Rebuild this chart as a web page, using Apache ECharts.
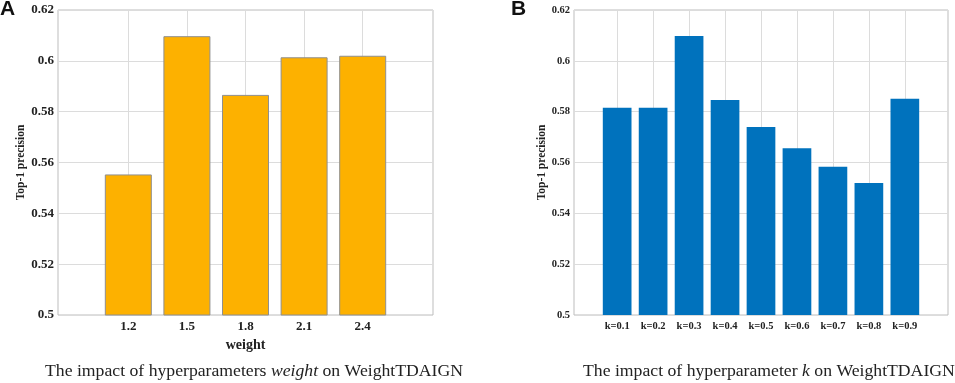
<!DOCTYPE html>
<html>
<head>
<meta charset="utf-8">
<script src="https://cdn.jsdelivr.net/npm/echarts@6/dist/echarts.min.js"></script>
<style>
  html, body { margin: 0; padding: 0; background: #fff; }
  #chart { width: 955px; height: 383px; }
</style>
</head>
<body>
<div id="chart"></div>
<script>
// panel A: weight sweep
const weights = [1.2, 1.5, 1.8, 2.1, 2.4];
const weightPrecision = [0.5553, 0.6097, 0.5866, 0.6014, 0.6020];

// panel B: k sweep
const kValues = [0.1, 0.2, 0.3, 0.4, 0.5, 0.6, 0.7, 0.8, 0.9];
const kPrecision = [0.5815, 0.5815, 0.6098, 0.5846, 0.5740, 0.5656, 0.5583, 0.5519, 0.5851];

// shared y ticks
const yMin = 0.5, yMax = 0.62, yStep = 0.02;

const serif = '"Liberation Serif", "Times New Roman", serif';
const sans = '"Liberation Sans", Arial, sans-serif';
const gridColor = '#dcdcdc';
const frameColor = '#bdbdbd';

function yAxisFor(gridIndex, labelSize, gap) {
  return {
    type: 'value', gridIndex,
    min: yMin, max: yMax, interval: yStep,
    name: 'Top-1 precision', nameLocation: 'middle', nameGap: gap,
    nameTextStyle: { fontFamily: serif, fontWeight: 'bold', fontSize: 11.5, color: '#222' },
    axisLine: { show: false }, axisTick: { show: false },
    axisLabel: { fontFamily: serif, fontWeight: 'bold', fontSize: labelSize, color: '#222', margin: 4 },
    splitLine: { lineStyle: { color: gridColor, width: 1 } }
  };
}

// vertical grid lines at each bar position
function vLines(xs) {
  return {
    silent: true, symbol: 'none', z: 1,
    label: { show: false },
    lineStyle: { color: gridColor, type: 'solid', width: 1 },
    data: xs.map(x => ({ xAxis: x }))
  };
}

function caption(text, left) {
  return {
    text, left, top: 362, padding: 0,
    textStyle: { fontFamily: serif, fontWeight: 'normal', fontSize: 17.7, color: '#222',
      rich: { i: { fontFamily: serif, fontStyle: 'italic', fontSize: 17.7, color: '#222' } } }
  };
}

const chart = echarts.init(document.getElementById('chart'), null, { renderer: 'canvas' });

chart.setOption({
  animation: false,
  title: [
    { text: 'A', left: 0, top: -1, padding: 0, textStyle: { fontFamily: sans, fontWeight: 'bold', fontSize: 21, color: '#111' } },
    { text: 'B', left: 511, top: -1, padding: 0, textStyle: { fontFamily: sans, fontWeight: 'bold', fontSize: 21, color: '#111' } },
    caption('The impact of hyperparameters {i|weight} on WeightTDAIGN', 45),
    caption('The impact of hyperparameter {i|k} on WeightTDAIGN', 583)
  ],
  grid: [
    { left: 58, top: 10, width: 375, height: 305, show: true, borderColor: frameColor, borderWidth: 1, backgroundColor: '#fff' },
    { left: 574, top: 10, width: 374, height: 305, show: true, borderColor: frameColor, borderWidth: 1, backgroundColor: '#fff' }
  ],
  xAxis: [
    {
      type: 'value', gridIndex: 0, min: 0.84, max: 2.76,
      name: 'weight', nameLocation: 'middle', nameGap: 17,
      nameTextStyle: { fontFamily: serif, fontWeight: 'bold', fontSize: 14, color: '#222' },
      axisLine: { show: false },
      axisTick: { show: true, inside: true, length: 4, customValues: weights, lineStyle: { color: '#888' } },
      axisLabel: { customValues: weights, fontFamily: serif, fontWeight: 'bold', fontSize: 13, color: '#222', margin: 5 },
      splitLine: { show: false }
    },
    {
      type: 'value', gridIndex: 1, min: -0.02, max: 1.02,
      axisLine: { show: false },
      axisTick: { show: true, inside: true, length: 4, customValues: kValues, lineStyle: { color: '#888' } },
      axisLabel: { customValues: kValues, formatter: v => 'k=' + v, fontFamily: serif, fontWeight: 'bold', fontSize: 10.5, color: '#222', margin: 6 },
      splitLine: { show: false }
    }
  ],
  yAxis: [yAxisFor(0, 13, 31), yAxisFor(1, 10.5, 19)],
  series: [
    {
      type: 'bar', xAxisIndex: 0, yAxisIndex: 0,
      barWidth: 47,
      data: weights.map((w, i) => [w, weightPrecision[i]]),
      itemStyle: { color: '#FDB100', borderColor: '#8f8f8f', borderWidth: 1 },
      markLine: vLines(weights),
      z: 2
    },
    {
      type: 'bar', xAxisIndex: 1, yAxisIndex: 1,
      barWidth: 28.7,
      data: kValues.map((k, i) => [k, kPrecision[i]]),
      itemStyle: { color: '#0072BD' },
      markLine: vLines(kValues),
      z: 2
    }
  ]
});
</script>
</body>
</html>
